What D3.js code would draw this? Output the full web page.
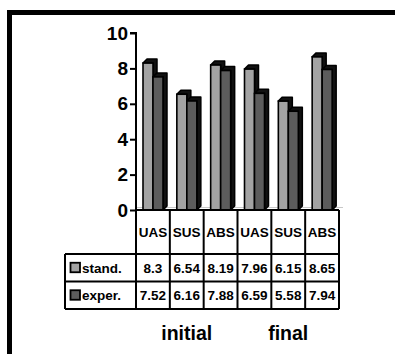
<!DOCTYPE html>
<html><head><meta charset="utf-8">
<script src="https://cdn.jsdelivr.net/npm/d3@7"></script>
<style>html,body{margin:0;padding:0;background:#fff;} svg{display:block;font-family:"Liberation Sans",Arial,sans-serif;font-weight:bold;}</style>
</head><body>
<svg id="c" width="395" height="354"></svg>
<script>
const categories = ["UAS","SUS","ABS","UAS","SUS","ABS"];
const seriesNames = ["stand.","exper."];
const standValues = [8.3, 6.54, 8.19, 7.96, 6.15, 8.65];
const experValues = [7.52, 6.16, 7.88, 6.59, 5.58, 7.94];
const groupLabels = ["initial","final"];
const yTicks = [0,2,4,6,8,10];
const colors = ["#a3a3a3","#5c5c5c"];

const svg = d3.select("#c");
// outer frame
svg.append("rect").attr("x",9.5).attr("y",12.5).attr("width",430).attr("height",400)
  .attr("fill","none").attr("stroke","#000").attr("stroke-width",5);

const x0 = 136, x1 = 339, yBase = 210, yTop = 33;
const y = d3.scaleLinear().domain([0,10]).range([yBase,yTop]);
const x = d3.scaleBand().domain(d3.range(categories.length)).range([x0,x1]).padding(0);
const xs = d3.scaleBand().domain(seriesNames).range([7,27]).padding(0);
const depth = 4;

// floor line
svg.append("path").attr("d",`M${x0},${yBase-2.5}L${x1+depth},${yBase-2.5}`)
  .attr("stroke","#c8c8c8").attr("stroke-width",1.2).attr("fill","none");

// y axis
const yAxis = d3.axisLeft(y).tickValues(yTicks).tickSize(6).tickPadding(2).tickFormat(d3.format("d"));
const ga = svg.append("g").attr("transform",`translate(${x0},0)`).call(yAxis);
ga.select(".domain").attr("stroke","#000").attr("stroke-width",2).attr("d",`M-6,${yTop}H0V${yBase}`);
ga.selectAll(".tick line").attr("stroke","#000").attr("stroke-width",2);
ga.selectAll(".tick text").attr("font-size",19).attr("font-weight","bold").attr("fill","#000")
  .attr("font-family","'Liberation Sans',Arial,sans-serif");

// bars
const data = [];
categories.forEach((c,i)=>{
  data.push({i, s:seriesNames[0], v:standValues[i], c:colors[0]});
  data.push({i, s:seriesNames[1], v:experValues[i], c:colors[1]});
});
const gb = svg.append("g");
data.forEach(d=>{
  const bx = x(d.i) + xs(d.s), bw = xs.bandwidth(), by = y(d.v);
  const g = gb.append("g");
  g.append("path").attr("d",
    `M${bx},${by}L${bx+depth},${by-depth}L${bx+bw+depth},${by-depth}L${bx+bw+depth},${yBase-depth}L${bx+bw},${yBase}L${bx+bw},${by}Z`)
    .attr("fill","#111").attr("stroke","#000").attr("stroke-width",1.5).attr("stroke-linejoin","round");
  g.append("rect").attr("x",bx).attr("y",by).attr("width",bw).attr("height",yBase-by)
    .attr("fill",d.c).attr("stroke","#000").attr("stroke-width",1.6);
});

// table
const rowTop = [yBase, 254, 281.5, 309];
const legendX = 65;
const gt = svg.append("g").attr("stroke","#000").attr("stroke-width",2);
gt.append("line").attr("x1",x0).attr("x2",x1).attr("y1",yBase).attr("y2",yBase);
[rowTop[1],rowTop[2],rowTop[3]].forEach(yy=>{
  gt.append("line").attr("x1",legendX).attr("x2",x1).attr("y1",yy).attr("y2",yy);
});
const bounds = d3.range(categories.length+1).map(k=> k<categories.length ? x(k) : x1);
bounds.forEach(bx=>{
  gt.append("line").attr("x1",bx).attr("x2",bx).attr("y1",yBase).attr("y2",rowTop[3]);
});
gt.append("line").attr("x1",legendX).attr("x2",legendX).attr("y1",rowTop[1]).attr("y2",rowTop[3]);

// category labels
svg.append("g").selectAll("text").data(categories).join("text")
  .attr("x",(d,i)=>x(i)+x.bandwidth()/2).attr("y",(rowTop[0]+rowTop[1])/2+5)
  .attr("text-anchor","middle").attr("font-size",13.5).text(d=>d);

// values
const rows = [standValues, experValues];
rows.forEach((vals,r)=>{
  const cy = (rowTop[r+1]+rowTop[r+2])/2 + 5;
  svg.append("g").selectAll("text").data(vals).join("text")
    .attr("x",(d,i)=>x(i)+x.bandwidth()/2).attr("y",cy)
    .attr("text-anchor","middle").attr("font-size",13.5).text(d=>d);
  svg.append("rect").attr("x",70.5).attr("y",cy-10).attr("width",9.5).attr("height",9.5)
    .attr("fill",colors[r]).attr("stroke","#000").attr("stroke-width",1.8);
  svg.append("text").attr("x",82).attr("y",cy).attr("font-size",13.5).text(seriesNames[r]);
});

// group labels
groupLabels.forEach((g,k)=>{
  const cx = (x(k*3) + x(k*3+2) + x.bandwidth())/2;
  svg.append("text").attr("x",cx).attr("y",340).attr("text-anchor","middle")
    .attr("font-size",19.5).text(g);
});
</script>
</body></html>
